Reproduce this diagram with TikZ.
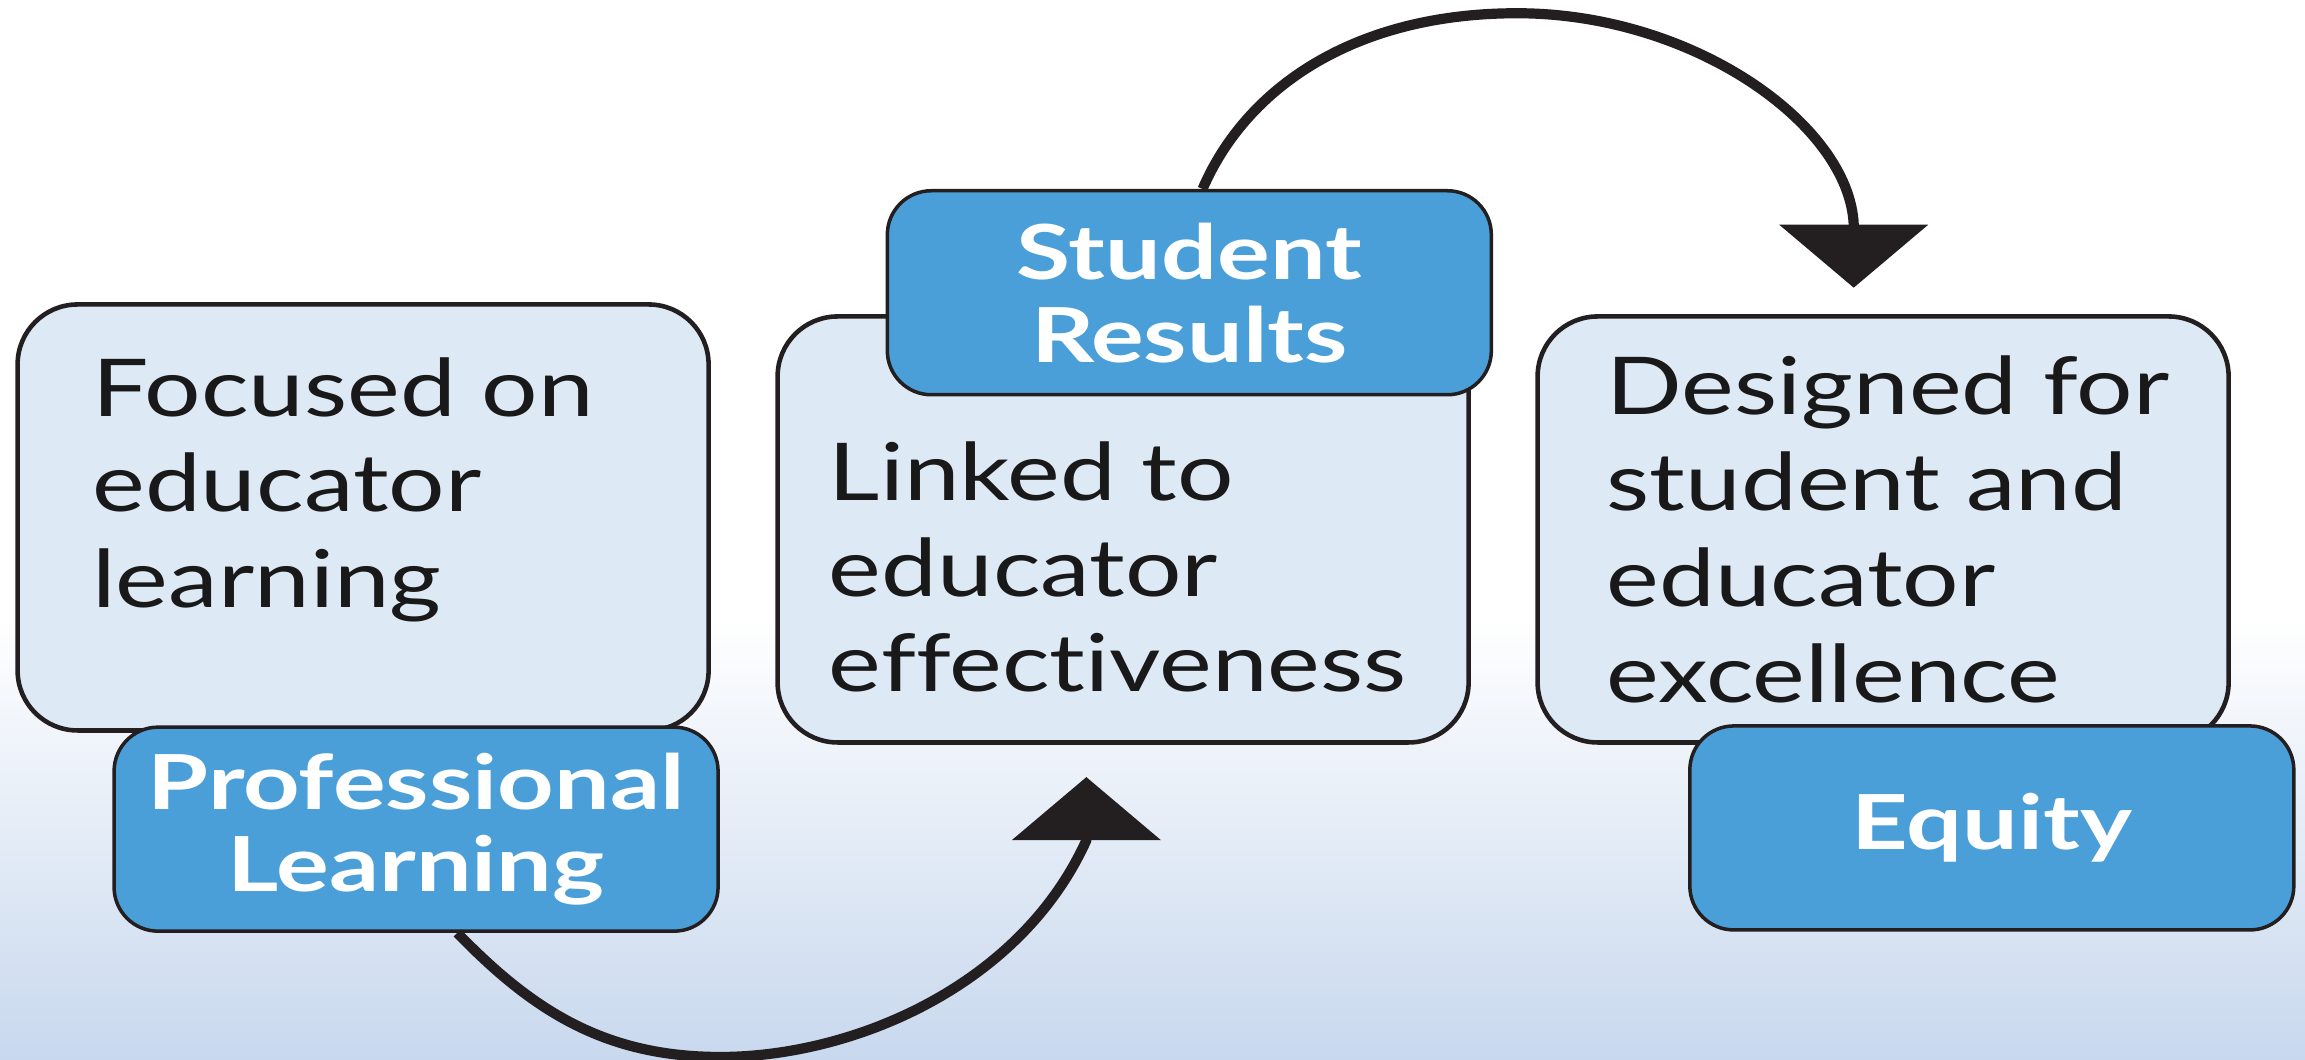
\documentclass[tikz,border=0pt]{standalone}
\usepackage{fontspec}
\setmainfont{Lato}[FakeStretch=1.25, Ligatures=NoCommon]
\newfontfamily\tagfont{Lato}[FakeStretch=1.3, Ligatures=NoCommon]
\usetikzlibrary{positioning, calc, arrows.meta}
\definecolor{boxfill}{RGB}{222,233,246}
\definecolor{tagblue}{RGB}{74,159,217}
\definecolor{bgblue}{RGB}{200,216,238}
\definecolor{inkline}{RGB}{35,31,32}
\tikzset{
    x=0.147mm, y=-0.147mm, % one unit is one pixel of the shrunk picture, y runs down
    >={Triangle[width=14.7mm, length=6.3mm]}, % big solid arrow heads
    node distance=7.6cm, % centre to centre distance of the statement boxes
    statement/.style={draw=inkline, line width=1.3pt, fill=boxfill, rounded corners=6mm,
        minimum width=69.1mm, minimum height=42.6mm}, % the three light boxes
    tag/.style={draw=inkline, line width=1pt, fill=tagblue, rounded corners=4.4mm,
        minimum width=60.4mm, minimum height=20.4mm, align=center, text=white,
        font=\tagfont\bfseries\fontsize{21.6}{23.6}\selectfont}, % the blue labels
    words/.style={inner sep=0pt, align=left, text=black!90,
        font=\fontsize{22.7}{27.3}\selectfont}, % text inside the light boxes
    loop/.style={->, line width=2.9pt, line join=round, draw=inkline}, % the curved arrows
}
\begin{document}
\begin{tikzpicture}
    \useasboundingbox (0,0) rectangle (1568,721);
    \fill[white] (0,0) rectangle (1568,721);
    \shade[top color=white, bottom color=bgblue] (0,420) rectangle (1568,721);

    \node[statement] (focus) at (247,352) {};
    \node[statement, right of=focus, yshift=-1.2mm] (linked) {};
    \node[statement, right of=linked] (design) {};

    \node[words, anchor=north west] (focustext) at ($(focus.north west)+(52,37)$) {Focused on\\educator\\learning};
    \node[words, anchor=north west] (linkedtext) at ($(linked.north west)+(36,86)$) {Linked to\\educator\\effectiveness};
    \node[words, anchor=north west] (designtext) at ($(design.north west)+(48,28)$) {Designed for\\student and\\educator\\excellence};

    \node[tag, anchor=north west] (learn) at ($(focus.south west)+(66,-5)$) {Professional\\Learning};
    \node[tag, anchor=south west] (results) at ($(linked.north west)+(75,56)$) {Student\\Results};
    \node[tag, anchor=north east] (equity) at ($(design.south east)+(44,-14)$) {Equity};

    % lowest and highest points of the two loops
    \coordinate (dip) at (490,719);
    \coordinate (crest) at (1032,9);

    % the heads stand upright, so each curve ends in a short straight piece
    \draw[loop] ($(learn.south)+(28,0)$) .. controls (361,686) and (410,719) .. (dip)
        .. controls (580,719) and (694,671) .. ($(linked.south)+(-25,65)$) -- ($(linked.south)+(-25,22)$);
    \draw[loop] ($(results.north)+(9,0)$) .. controls (848,59) and (922,9) .. (crest)
        .. controls (1152,9) and (1258,85) .. ($(design.north)+(-20,-61)$) -- ($(design.north)+(-20,-18)$);
\end{tikzpicture}
\end{document}
